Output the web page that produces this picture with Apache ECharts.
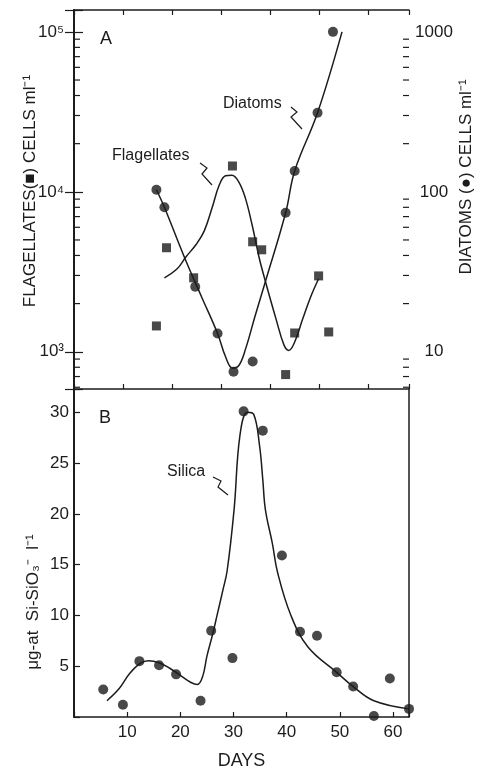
<!DOCTYPE html>
<html lang="en">
<head>
    <meta charset="UTF-8">
    <title>Flagellates, diatoms and silica</title>
    <style>
        html, body { margin: 0; padding: 0; background: #fff; }
        #main { width: 478px; height: 771px; }
    </style>
    <script src="https://cdn.jsdelivr.net/npm/echarts@6/dist/echarts.min.js"></script>
</head>
<body>
<div id="main"></div>
<script>
    // panel A - points (days, cells per ml)
    const flagDays = [15.5, 17.4, 22.5, 29.8, 33.6, 35.3, 39.8, 41.5, 46.0, 47.9]
    const flagCells = [1450, 4470, 2900, 14500, 4870, 4340, 720, 1310, 2980, 1330]
    const diatomDays = [15.5, 17.0, 22.8, 27.0, 30.0, 33.6, 39.8, 41.5, 45.8, 48.7]
    const diatomCells = [103, 80, 25.5, 13.0, 7.5, 8.7, 74, 135, 312, 1000]

    // panel A - hand drawn curves
    const flagCurveDays = [17.0, 19.4, 21.0, 23.0, 24.5, 26.0, 27.3, 28.5, 29.7, 31.0, 32.2, 33.5, 34.8, 36.0, 38.0, 39.5, 40.4, 41.5, 43.0, 44.5, 46.0]
    const flagCurveCells = [2900, 3300, 3900, 4700, 5700, 8000, 11000, 12600, 12700, 11500, 9200, 6200, 3900, 2750, 1600, 1100, 1020, 1150, 1600, 2200, 2860]
    const diatomCurveDays = [15.5, 17.0, 20.9, 24.0, 27.0, 28.5, 29.8, 31.0, 32.3, 34.0, 36.0, 39.8, 41.5, 45.8, 50.4]
    const diatomCurveCells = [103, 80, 38, 22, 13, 9.3, 7.9, 8.2, 10.5, 16.5, 27.5, 74, 135, 312, 1000]

    // panel B - silica
    const silicaDays = [5.5, 9.2, 12.3, 16.0, 19.2, 23.8, 25.8, 29.8, 31.9, 35.5, 39.1, 42.5, 45.7, 49.4, 52.5, 56.4, 59.4, 63.0]
    const silicaValues = [2.7, 1.2, 5.5, 5.1, 4.2, 1.6, 8.5, 5.8, 30.1, 28.2, 15.9, 8.4, 8.0, 4.4, 3.0, 0.1, 3.8, 0.8]
    const silicaCurveDays = [6.2, 8.5, 10.5, 12.5, 14.0, 16.0, 18.0, 20.0, 22.0, 23.2, 24.2, 25.0, 26.0, 26.9, 28.0, 28.8, 30.1, 31.2, 32.6, 33.8, 34.9, 35.5, 36.0, 37.3, 38.3, 40.8, 44.0, 49.4, 52.5, 56.4, 63.0]
    const silicaCurveValues = [1.6, 2.8, 4.3, 5.3, 5.55, 5.35, 4.8, 4.1, 3.4, 3.2, 4.0, 6.0, 8.0, 10.0, 12.5, 14.4, 20.4, 27.7, 30.0, 29.8, 26.7, 23.4, 20.4, 17.1, 14.2, 10.0, 6.9, 4.4, 3.0, 1.6, 0.8]

    // tick labels
    const dayTicks = [10, 20, 30, 40, 50, 60]
    const logMinorTicks = [600, 700, 800, 900, 2000, 3000, 4000, 5000, 6000, 7000, 8000, 9000,
        20000, 30000, 40000, 50000, 60000, 70000, 80000, 90000]

    const ink = '#1c1c1c'
    const font = 'Liberation Sans'
    const sup = {'1': '¹', '2': '²', '3': '³', '4': '⁴', '5': '⁵'}

    const zip = (a, b) => a.map((v, i) => [v, b[i]])
    const isPow10 = v => Math.abs(Math.log10(v) - Math.round(Math.log10(v))) < 1e-6

    document.addEventListener('DOMContentLoaded', () => {
        let myChart = echarts.init(document.getElementById('main'))

        const tickAxis = (grid, pos) => ({
            gridIndex: grid, type: 'value', position: pos, min: 0, max: 6.84, interval: 1,
            axisLine: {show: true, lineStyle: {color: ink, width: 1.5}},
            axisTick: {show: true, inside: true, length: 5, lineStyle: {color: ink, width: 1.2}},
            axisLabel: {show: false}, splitLine: {show: false}
        })

        let option = {
            animation: false,
            backgroundColor: '#fff',
            grid: [
                {left: 74, right: 69, top: 10, height: 379},
                {left: 74, right: 69, top: 389, bottom: 46}
            ],
            xAxis: [
                {gridIndex: 0, type: 'value', min: 0, max: 63, show: false},
                tickAxis(0, 'bottom'),
                tickAxis(0, 'top'),
                {
                    gridIndex: 1, type: 'value', position: 'bottom', min: 0, max: 63, interval: 10,
                    axisLine: {show: true, lineStyle: {color: ink, width: 1.5}},
                    axisTick: {show: true, inside: true, length: 5, lineStyle: {color: ink, width: 1.2}},
                    axisLabel: {
                        color: ink, fontFamily: font, fontSize: 17, margin: 7,
                        formatter: v => dayTicks.includes(v) ? String(v) : ''
                    },
                    splitLine: {show: false},
                    name: 'DAYS', nameLocation: 'middle', nameGap: 35,
                    nameTextStyle: {color: ink, fontFamily: font, fontSize: 18}
                }
            ],
            yAxis: [
                {
                    gridIndex: 0, type: 'log', logBase: 10, min: 585, max: 137000, position: 'left',
                    axisLine: {show: true, lineStyle: {color: ink, width: 2}},
                    axisTick: {show: true, inside: true, length: 9, lineStyle: {color: ink, width: 1.2}},
                    axisLabel: {
                        color: ink, fontFamily: font, fontSize: 17, margin: 10,
                        formatter: v => isPow10(v) ? '10' + sup[String(Math.round(Math.log10(v)))] : ''
                    },
                    splitLine: {show: false}
                },
                {
                    gridIndex: 0, type: 'log', logBase: 10, min: 5.85, max: 1370, position: 'right',
                    axisLine: {show: true, lineStyle: {color: ink, width: 1.5}},
                    axisTick: {show: true, inside: true, length: 9, lineStyle: {color: ink, width: 1.2}},
                    axisLabel: {
                        color: ink, fontFamily: font, fontSize: 17, margin: 25, align: 'center',
                        formatter: v => isPow10(v) ? String(Math.round(v)) : ''
                    },
                    splitLine: {show: false}
                },
                {
                    gridIndex: 1, type: 'value', min: 0, max: 32.3, interval: 5, position: 'left',
                    axisLine: {show: true, lineStyle: {color: ink, width: 2}},
                    axisTick: {show: true, inside: true, length: 6, lineStyle: {color: ink, width: 1.2}},
                    axisLabel: {
                        color: ink, fontFamily: font, fontSize: 17, margin: 5,
                        formatter: v => (v > 0 && v % 5 === 0) ? String(v) : ''
                    },
                    splitLine: {show: false}
                },
                {
                    gridIndex: 1, type: 'value', min: 0, max: 32.3, position: 'right',
                    axisLine: {show: true, lineStyle: {color: ink, width: 1.5}},
                    axisTick: {show: false}, axisLabel: {show: false}, splitLine: {show: false}
                }
            ],
            series: [
                {
                    // log minor ticks, drawn against the left log axis
                    type: 'custom', xAxisIndex: 0, yAxisIndex: 0, silent: true, clip: false,
                    data: logMinorTicks.map(v => [0, v]),
                    renderItem: (params, api) => {
                        const p = api.coord([0, api.value(1)])
                        const q = api.coord([63, api.value(1)])
                        return {
                            type: 'group', children: [
                                {type: 'line', shape: {x1: p[0], y1: p[1], x2: p[0] + 6, y2: p[1]}, style: {stroke: ink, lineWidth: 1.2}},
                                {type: 'line', shape: {x1: q[0] - 6, y1: q[1], x2: q[0], y2: q[1]}, style: {stroke: ink, lineWidth: 1.2}}
                            ]
                        }
                    }
                },
                {
                    name: 'Flagellates curve', type: 'line', xAxisIndex: 0, yAxisIndex: 0,
                    data: zip(flagCurveDays, flagCurveCells), smooth: 0.4, showSymbol: false,
                    lineStyle: {color: ink, width: 1.5}
                },
                {
                    name: 'Diatoms curve', type: 'line', xAxisIndex: 0, yAxisIndex: 1,
                    data: zip(diatomCurveDays, diatomCurveCells), smooth: 0.4, showSymbol: false,
                    lineStyle: {color: ink, width: 1.5}
                },
                {
                    name: 'Flagellates', type: 'scatter', xAxisIndex: 0, yAxisIndex: 0,
                    data: zip(flagDays, flagCells), symbol: 'rect', symbolSize: 9,
                    itemStyle: {color: ink}
                },
                {
                    name: 'Diatoms', type: 'scatter', xAxisIndex: 0, yAxisIndex: 1,
                    data: zip(diatomDays, diatomCells), symbol: 'circle', symbolSize: 10,
                    itemStyle: {color: ink}
                },
                {
                    name: 'Silica curve', type: 'line', xAxisIndex: 3, yAxisIndex: 2,
                    data: zip(silicaCurveDays, silicaCurveValues), smooth: 0.4, showSymbol: false,
                    lineStyle: {color: ink, width: 1.5}
                },
                {
                    name: 'Silica', type: 'scatter', xAxisIndex: 3, yAxisIndex: 2,
                    data: zip(silicaDays, silicaValues), symbol: 'circle', symbolSize: 10,
                    itemStyle: {color: ink}, clip: false
                }
            ],
            graphic: [
                {type: 'text', x: 106, y: 39, style: {text: 'A', font: '18px ' + font, fill: ink, align: 'center', verticalAlign: 'middle'}},
                {type: 'text', x: 105, y: 418, style: {text: 'B', font: '18px ' + font, fill: ink, align: 'center', verticalAlign: 'middle'}},
                {type: 'text', x: 223, y: 104, style: {text: 'Diatoms', font: '16px ' + font, fill: ink, align: 'left', verticalAlign: 'middle'}},
                {type: 'text', x: 112, y: 156, style: {text: 'Flagellates', font: '16px ' + font, fill: ink, align: 'left', verticalAlign: 'middle'}},
                {type: 'text', x: 167, y: 472, style: {text: 'Silica', font: '16px ' + font, fill: ink, align: 'left', verticalAlign: 'middle'}},
                {type: 'polyline', shape: {points: [[291, 107], [297, 112], [291, 117], [302, 129]]}, style: {stroke: ink, lineWidth: 1.2, fill: null}},
                {type: 'polyline', shape: {points: [[200, 163], [207, 168], [202, 174], [212, 185]]}, style: {stroke: ink, lineWidth: 1.2, fill: null}},
                {type: 'polyline', shape: {points: [[213, 477], [221, 481], [218, 487], [228, 495]]}, style: {stroke: ink, lineWidth: 1.2, fill: null}},
                {type: 'text', x: 30, y: 191, rotation: Math.PI / 2, style: {text: 'FLAGELLATES(■) CELLS ml⁻¹', font: '17px ' + font, fill: ink, align: 'center', verticalAlign: 'middle'}},
                {type: 'text', x: 466, y: 177, rotation: Math.PI / 2, style: {text: 'DIATOMS (●) CELLS ml⁻¹', font: '17px ' + font, fill: ink, align: 'center', verticalAlign: 'middle'}},
                {type: 'text', x: 33, y: 602, rotation: Math.PI / 2, style: {text: 'μg-at  Si-SiO₃⁻  l⁻¹', font: '17px ' + font, fill: ink, align: 'center', verticalAlign: 'middle'}}
            ]
        }
        myChart.setOption(option)
    })
</script>
</body>
</html>
